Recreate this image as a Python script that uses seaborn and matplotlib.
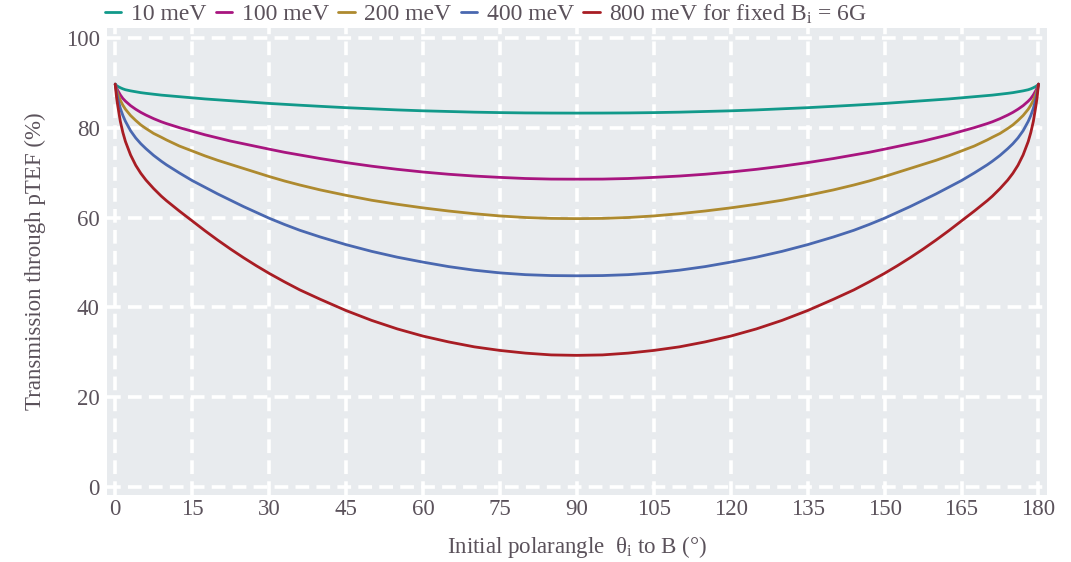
import numpy as np
import pandas as pd
import matplotlib
matplotlib.use("Agg")
import matplotlib.pyplot as plt
import seaborn as sns

# ---- data ----
angles = [0, 0.25, 0.5, 1, 1.5, 2, 3, 4, 5, 6, 7.5, 9, 10, 12.5, 15, 17.5, 20, 22.5, 25, 27.5, 30, 33, 36, 40,
          45, 50, 55, 60, 65, 70, 75, 80, 85, 90,
          95, 100, 105, 110, 115, 120, 125, 130, 135, 140, 144, 147, 150, 152.5, 155, 157.5, 160, 162.5, 165,
          167.5, 170, 171, 172.5, 174, 175, 176, 177, 178, 178.5, 179, 179.5, 179.75, 180]

t_10 = [89.8, 89.5, 89.3, 89.0, 88.75, 88.55, 88.3, 88.1, 87.9, 87.75, 87.55, 87.35, 87.25, 87.0, 86.75, 86.5,
        86.3, 86.1, 85.9, 85.7, 85.5, 85.3, 85.1, 84.85, 84.55, 84.3, 84.05, 83.85, 83.7, 83.55, 83.45, 83.38,
        83.35, 83.34,
        83.35, 83.38, 83.45, 83.55, 83.7, 83.85, 84.05, 84.3, 84.55, 84.85, 85.1, 85.3, 85.5, 85.7, 85.9, 86.1,
        86.3, 86.5, 86.75, 87.0, 87.25, 87.35, 87.55, 87.75, 87.9, 88.1, 88.3, 88.55, 88.75, 89.0, 89.3, 89.5, 89.8]
t_100 = [89.8, 89.0, 88.4, 87.4, 86.6, 86.0, 85.0, 84.2, 83.5, 82.9, 82.1, 81.4, 81.0, 80.1, 79.3, 78.5, 77.8,
         77.1, 76.5, 75.9, 75.3, 74.6, 74.0, 73.2, 72.3, 71.5, 70.8, 70.2, 69.7, 69.3, 69.0, 68.75, 68.62, 68.6,
         68.62, 68.75, 69.0, 69.3, 69.7, 70.2, 70.8, 71.5, 72.3, 73.2, 74.0, 74.6, 75.3, 75.9, 76.5, 77.1, 77.8,
         78.5, 79.3, 80.1, 81.0, 81.4, 82.1, 82.9, 83.5, 84.2, 85.0, 86.0, 86.6, 87.4, 88.4, 89.0, 89.8]
t_200 = [89.8, 88.6, 87.7, 86.2, 85.1, 84.2, 82.8, 81.7, 80.7, 79.9, 78.8, 77.95, 77.35, 76.0, 74.9, 73.8, 72.8,
         71.9, 71.0, 70.1, 69.2, 68.2, 67.3, 66.2, 65.0, 63.9, 63.0, 62.2, 61.5, 60.9, 60.4, 60.05, 59.85, 59.8,
         59.85, 60.05, 60.4, 60.9, 61.5, 62.2, 63.0, 63.9, 65.0, 66.2, 67.3, 68.2, 69.2, 70.1, 71.0, 71.9, 72.8,
         73.8, 74.9, 76.0, 77.35, 77.95, 78.8, 79.9, 80.7, 81.7, 82.8, 84.2, 85.1, 86.2, 87.7, 88.6, 89.8]
t_400 = [89.8, 88.0, 86.6, 84.4, 82.8, 81.5, 79.4, 77.8, 76.5, 75.4, 73.9, 72.6, 71.8, 70.0, 68.3, 66.8, 65.3,
         63.9, 62.5, 61.2, 59.9, 58.5, 57.2, 55.7, 54.0, 52.5, 51.2, 50.1, 49.1, 48.3, 47.7, 47.3, 47.1, 47.05,
         47.1, 47.3, 47.7, 48.3, 49.1, 50.1, 51.2, 52.5, 54.0, 55.7, 57.2, 58.5, 59.9, 61.2, 62.5, 63.9, 65.3,
         66.8, 68.3, 70.0, 71.8, 72.6, 73.9, 75.4, 76.5, 77.8, 79.4, 81.5, 82.8, 84.4, 86.6, 88.0, 89.8]
t_800 = [89.8, 87.0, 85.0, 81.5, 79.0, 77.0, 74.0, 71.7, 69.9, 68.4, 66.5, 64.8, 63.8, 61.5, 59.3, 57.1, 55.0,
         53.0, 51.1, 49.3, 47.6, 45.7, 43.9, 41.8, 39.3, 37.1, 35.2, 33.6, 32.3, 31.2, 30.4, 29.8, 29.4, 29.3,
         29.4, 29.8, 30.4, 31.2, 32.3, 33.6, 35.2, 37.1, 39.3, 41.8, 43.9, 45.7, 47.6, 49.3, 51.1, 53.0, 55.0,
         57.1, 59.3, 61.5, 63.8, 64.8, 66.5, 68.4, 69.9, 71.7, 74.0, 77.0, 79.0, 81.5, 85.0, 87.0, 89.8]

series_names = ["10 meV", "100 meV", "200 meV", "400 meV", "800 meV for fixed B$_\\mathrm{i}$ = 6G"]
series_vals = [t_10, t_100, t_200, t_400, t_800]
colors = ["#11998a", "#a8157f", "#ae8a2f", "#4a68b0", "#a81d24"]

x_ticks = [0, 15, 30, 45, 60, 75, 90, 105, 120, 135, 150, 165, 180]
y_ticks = [0, 20, 40, 60, 80, 100]

rows = []
for name, vals in zip(series_names, series_vals):
    assert len(vals) == len(angles)
    for a, v in zip(angles, vals):
        rows.append({"angle": a, "T": v, "series": name})
df = pd.DataFrame(rows)

# ---- style ----
sns.set_theme(style="white")
txt = "#5b525b"
plt.rcParams["font.family"] = ["Liberation Serif", "DejaVu Serif"]
plt.rcParams["mathtext.fontset"] = "custom"
plt.rcParams["mathtext.rm"] = "Liberation Serif"
plt.rcParams["mathtext.it"] = "Liberation Serif:italic"
plt.rcParams["text.color"] = txt

fig = plt.figure(figsize=(10.71, 5.62), dpi=100)
ax = fig.add_axes([0.0996, 0.1192, 0.9773 - 0.0996, 0.950 - 0.1192])
ax.set_facecolor("#e8ebee")

sns.lineplot(data=df, x="angle", y="T", hue="series", hue_order=series_names,
             palette=colors, linewidth=2.0, ax=ax, sort=False, estimator=None)

ax.set_xlim(-1.66, 181.6)
ax.set_ylim(-1.85, 102.3)
ax.set_xticks(x_ticks)
ax.set_yticks(y_ticks)
ax.grid(True, color="white", linewidth=2.6, linestyle=(0, (3.8, 2.0)))
ax.set_axisbelow(True)
for s in ax.spines.values():
    s.set_visible(False)
ax.tick_params(axis="both", length=0, labelsize=16.5, labelcolor=txt)
ax.tick_params(axis="x", pad=3)
ax.tick_params(axis="y", pad=5)

ax.set_xlabel("Initial polarangle  θ$_\\mathrm{i}$ to B (°)", fontsize=16.5, color=txt, labelpad=10)
ax.set_ylabel("Transmission through pTEF (%)", fontsize=16.5, color=txt, labelpad=14)

ax.legend_.remove()
handles, labels = ax.get_legend_handles_labels()
leg = fig.legend(handles, labels, loc="center left", bbox_to_anchor=(0.098, 0.975),
                 ncol=5, frameon=False, fontsize=17, handlelength=0.7,
                 handletextpad=0.4, columnspacing=0.4, borderaxespad=0, borderpad=0)
for t in leg.get_texts():
    t.set_color(txt)

fig.savefig("out.png", dpi=100)
